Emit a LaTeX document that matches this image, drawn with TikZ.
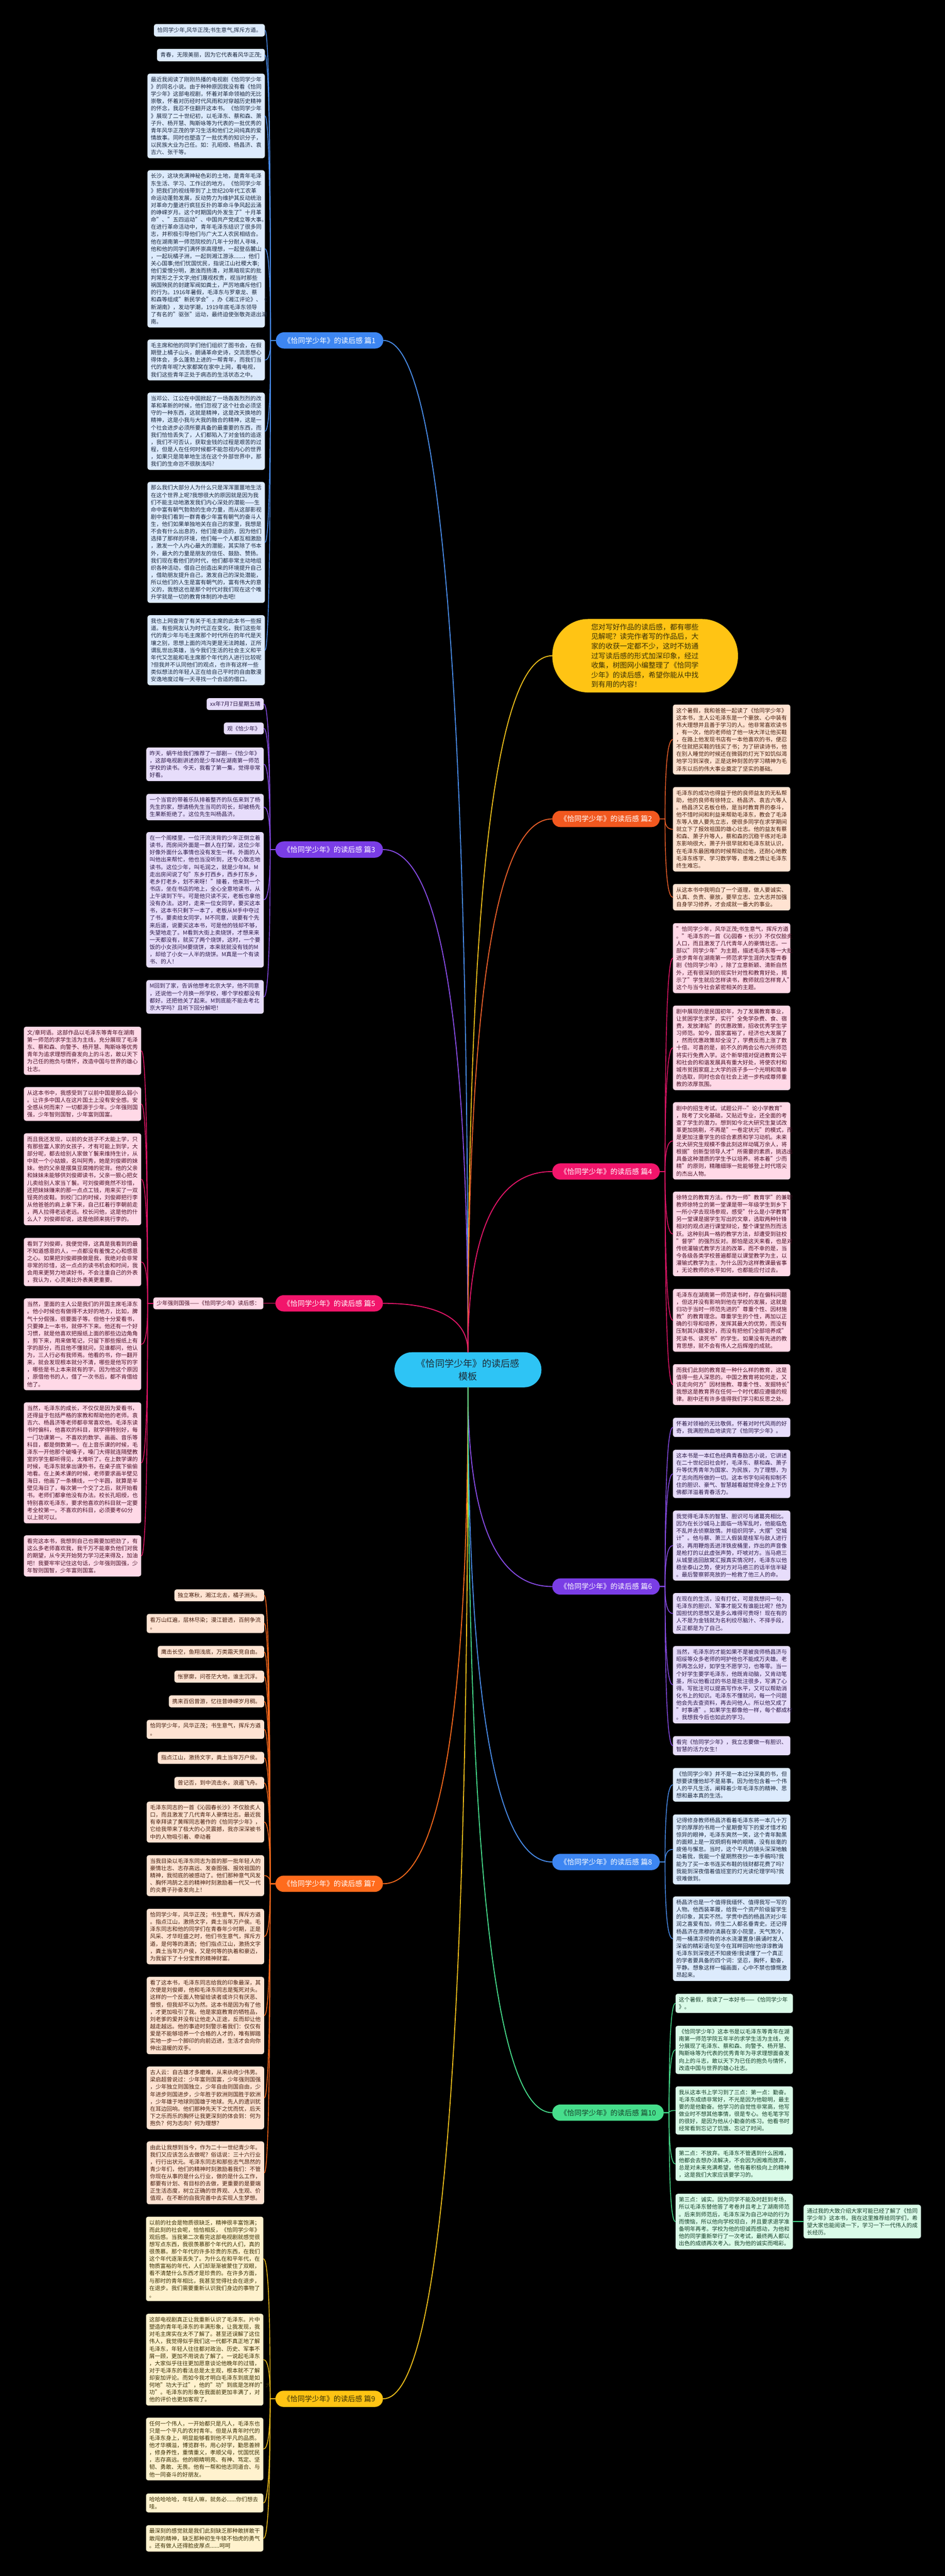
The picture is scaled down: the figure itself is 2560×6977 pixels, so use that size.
\documentclass[tikz,border=0pt]{standalone}
\usepackage{fontspec}
\setmainfont{Noto Sans CJK SC}
\usetikzlibrary{calc}

% colours of the branches
\definecolor{bluline}{HTML}{4A8FF0}
\definecolor{blulab}{HTML}{3D86F2}
\definecolor{bluleaf}{HTML}{DDEBFD}
\definecolor{blutext}{HTML}{1C2940}
\definecolor{purline}{HTML}{8A4DEB}
\definecolor{purlab}{HTML}{7A3DE6}
\definecolor{purleaf}{HTML}{E7DDFB}
\definecolor{purtext}{HTML}{2C1A4A}
\definecolor{pnkline}{HTML}{E8166A}
\definecolor{pnklab}{HTML}{F2156B}
\definecolor{pnkleaf}{HTML}{FFD9E7}
\definecolor{pnktext}{HTML}{4A1128}
\definecolor{redline}{HTML}{F0612A}
\definecolor{redlab}{HTML}{F2581F}
\definecolor{ornline}{HTML}{FF6B1C}
\definecolor{ornlab}{HTML}{FF6B1C}
\definecolor{ornleaf}{HTML}{FFE3D2}
\definecolor{orntext}{HTML}{472010}
\definecolor{yelline}{HTML}{F5C21B}
\definecolor{yellab}{HTML}{FFC414}
\definecolor{yelleaf}{HTML}{FFF2CE}
\definecolor{yeltext}{HTML}{3A2F05}
\definecolor{grnline}{HTML}{46DE8C}
\definecolor{grnlab}{HTML}{46DE8C}
\definecolor{grnleaf}{HTML}{DAFBE8}
\definecolor{grntext}{HTML}{17402A}
\definecolor{rootfill}{HTML}{2EC4F5}
\definecolor{roottext}{HTML}{1D2B38}

\newcommand\bodyfont{\fontsize{7.5pt}{9.85pt}\selectfont}
\newcommand\labfont{\fontsize{9.75pt}{12pt}\selectfont}
\newcommand\rootfont{\fontsize{12.7pt}{17.5pt}\selectfont}
\newcommand\introfont{\fontsize{9.7pt}{13pt}\selectfont}

\tikzset{
  elbow/.style={to path={-- ++(#1,0) coordinate (kink)
      .. controls ($(kink)!0.667!(kink |- \tikztotarget)$)
      and ($(\tikztotarget)!0.667!(kink |- \tikztotarget)$) .. (\tikztotarget)}},
  elbow/.default=0,
  box/.style={rounded corners=3pt, inner xsep=4.5pt, inner ysep=4.5pt, align=left, font=\bodyfont},
  para/.style={box, text width=150pt},
  blu/.style={fill=bluleaf, text=blutext},
  pur/.style={fill=purleaf, text=purtext},
  pnk/.style={fill=pnkleaf, text=pnktext},
  orn/.style={fill=ornleaf, text=orntext},
  yel/.style={fill=yelleaf, text=yeltext},
  grn/.style={fill=grnleaf, text=grntext},
  lab/.style={fill=#1, rounded corners=11pt, minimum height=22pt, inner xsep=10.5pt, inner ysep=2pt, font=\labfont},
  root/.style={fill=rootfill, text=roottext, rounded corners=23.5pt, minimum width=199pt,
    minimum height=47.5pt, align=center, font=\rootfont},
  intro/.style={fill=yellab, text=yeltext, rounded corners=49pt, minimum width=251.5pt,
    minimum height=99.5pt, text width=146pt, align=left, font=\introfont},
  trunk/.style={line width=1.25pt, draw=#1, line cap=round},
  twig/.style={line width=1pt, draw=#1, line cap=round},
}

\begin{document}
\begin{tikzpicture}[x=0.5pt, y=-0.5pt]
    % background (Canvas)
    \fill[black] (0,0) rectangle (2560,6977);
    \useasboundingbox (0,0) rectangle (2560,6977);

    % centre and intro
    \node[root] (root) at (1268,3710) {《恰同学少年》的读后感\\模板};
    \node[intro] (intro) at (1748,1776) {您对写好作品的读后感，都有哪些\\见解呢？读完作者写的作品后，大\\家的收获一定都不少，这时不妨通\\过写读后感的形式加深印象，经过\\收集，树图网小编整理了《恰同学\\少年》的读后感，希望你能从中找\\到有用的内容！};

    % branch labels (left)
    \node[lab=blulab, text=white, anchor=east] (p1) at (1039,922) {《恰同学少年》的读后感 篇1};
    \node[lab=purlab, text=white, anchor=east] (p3) at (1038,2301) {《恰同学少年》的读后感 篇3};
    \node[lab=pnklab, text=white, anchor=east] (p5) at (1038,3530) {《恰同学少年》的读后感 篇5};
    \node[lab=ornlab, text=white, anchor=east] (p7) at (1038,5102) {《恰同学少年》的读后感 篇7};
    \node[lab=yellab, text=yeltext, anchor=east] (p9) at (1038,6497) {《恰同学少年》的读后感 篇9};
    % branch labels (right)
    \node[lab=redlab, text=white, anchor=west] (p2) at (1496,2218) {《恰同学少年》的读后感 篇2};
    \node[lab=pnklab, text=white, anchor=west] (p4) at (1496,3173) {《恰同学少年》的读后感 篇4};
    \node[lab=purlab, text=white, anchor=west] (p6) at (1496,4297) {《恰同学少年》的读后感 篇6};
    \node[lab=blulab, text=white, anchor=west] (p8) at (1496,5043) {《恰同学少年》的读后感 篇8};
    \node[lab=grnlab, text=grntext, anchor=west] (p10) at (1496,5722) {《恰同学少年》的读后感 篇10};

    % 篇1
    \node[box, blu, anchor=east] (a1) at (718,82) {恰同学少年,风华正茂;书生意气,挥斥方遒。};
    \node[box, blu, anchor=east] (a2) at (718,149) {青春，无限美丽，因为它代表着风华正茂;};
    \node[para, blu, anchor=east] (a3) at (718,314) {最近我阅读了刚刚热播的电视剧《恰同学少年\\》的同名小说。由于种种原因我没有看《恰同\\学少年》这部电视剧，怀着对革命领袖的无比\\崇敬，怀着对历经时代风雨和对穿越历史精神\\的怀念，我忍不住翻开这本书。《恰同学少年\\》展现了二十世纪初，以毛泽东、蔡和森、萧\\子升、杨开慧、陶斯咏等为代表的一批优秀的\\青年风华正茂的学习生活和他们之间纯真的爱\\情故事。同时也塑造了一批优秀的知识分子，\\以民族大业为己任。如：孔昭绶、杨昌济、袁\\吉六、张干等。};
    \node[para, blu, anchor=east] (a4) at (718,674) {长沙，这块充满神秘色彩的土地，是青年毛泽\\东生活、学习、工作过的地方。《恰同学少年\\》把我们的视线带到了上世纪20年代工农革\\命运动蓬勃发展，反动势力为维护其反动统治\\对革命力量进行疯狂反扑的革命斗争风起云涌\\的峥嵘岁月。这个时期国内外发生了"十月革\\命"、"五四运动"、中国共产党成立等大事。\\在进行革命活动中，青年毛泽东结识了很多同\\志，并积极引导他们与广大工人农民相结合。\\他在湖南第一师范院校的几年十分耐人寻味，\\他和他的同学们满怀崇高理想，一起登岳麓山\\，一起玩橘子洲，一起到湘江游泳......，他们\\关心国事;他们忧国忧民，指说江山社稷大事;\\他们爱憎分明，激浊而扬清，对黑暗现实的批\\判常形之于文字;他们蔑视权贵，视当时那些\\祸国殃民的封建军阀如粪土，严厉地痛斥他们\\的行为。1916年暑假，毛泽东与罗章龙、蔡\\和森等组成"新民学会"，办《湘江评论》、《\\新湖南》，发动学潮，1919年底毛泽东领导\\了有名的"驱张"运动，最终迫使张敬尧退出湖\\南。};
    \node[para, blu, anchor=east] (a5) at (718,975) {毛主席和他的同学们他们组织了图书会，在假\\期登上橘子山头，朗诵革命史诗，交流思想心\\得体会，多么蓬勃上进的一帮青年，而我们当\\代的青年呢?大家都窝在家中上网，看电视，\\我们这些青年正处于病态的生活状态之中。};
    \node[para, blu, anchor=east] (a6) at (718,1168) {当邓公、江公在中国掀起了一场轰轰烈烈的改\\革和革新的时候，他们忽视了这个社会必须坚\\守的一种东西，这就是精神，这是改天换地的\\精神，这是小我与大我的融合的精神，这是一\\个社会进步必须所要具备的最重要的东西，而\\我们恰恰丢失了，人们都陷入了对金钱的追逐\\，我们不可否认，获取金钱的过程是艰苦的过\\程，但是人在任何时候都不能忽视内心的世界\\，如果只是简单地生活在这个外部世界中，那\\我们的生命岂不很肤浅吗?};
    \node[para, blu, anchor=east] (a7) at (718,1469) {那么我们大部分人为什么只是浑浑噩噩地生活\\在这个世界上呢?我想很大的原因就是因为我\\们不能主动地激发我们内心深处的潜能——生\\命中富有朝气勃勃的生命力量，而从这部影视\\剧中我们看到一群青春少年富有朝气的奋斗人\\生，他们如果单独地关在自己的家里，我想是\\不会有什么出息的，他们是幸运的，因为他们\\选择了那样的环境，他们每一个人都互相激励\\，激发一个人内心最大的潜能，其实除了书本\\外，最大的力量是朋友的信任、鼓励、赞扬。\\我们现在看他们的时代，他们都非常主动地组\\织各种活动，借自己创造出来的环境提升自己\\，借助朋友提升自己，激发自己的深处潜能，\\所以他们的人生是富有朝气的，富有伟大的意\\义的，我想这也是那个时代对我们现在这个唯\\升学就是一切的教育体制的冲击吧!};
    \node[para, blu, anchor=east] (a8) at (718,1761) {我也上网查询了有关于毛主席的此本书一些报\\道。有些网友认为时代正在变化，我们这些年\\代的青少年与毛主席那个时代所在的年代是天\\壤之别，思想上面的鸿沟更是无法跨越，正所\\谓乱世出英雄，当今我们生活的社会主义和平\\年代又怎能和毛主席那个年代的人进行比较呢\\?但我并不认同他们的观点，也许有这样一些\\类似想法的年轻人正在给自己平时的自由散漫\\安逸地度过每一天寻找一个合适的借口。};

    % 篇3
    \node[box, pur, anchor=east] (b1) at (715,1907) {xx年7月7日星期五晴};
    \node[box, pur, anchor=east] (b2) at (715,1973) {观《恰少年》};
    \node[para, pur, anchor=east] (b3) at (715,2070) {昨天，蜗牛给我们推荐了一部剧—《恰少年》\\，这部电视剧讲述的是少年M在湖南第一师范\\学校的读书。今天，我看了第一集，觉得非常\\好看。};
    \node[para, pur, anchor=east] (b4) at (715,2186) {一个当官的带着乐队排着整齐的队伍来到了杨\\先生的家，想请杨先生当司的司长，却被杨先\\生果断拒绝了。这位先生叫杨昌济。};
    \node[para, pur, anchor=east] (b5) at (715,2437) {在一个阁楼里，一位汗流浃背的少年正倒立着\\读书，而房间外面是一群人在打架，这位少年\\好像外面什么事情也没有发生一样。外面的人\\叫他出来帮忙，他也当没听到，还专心致志地\\读书。这位少年，叫毛润之，就是少年M。M\\走出房间说了句"东乡打西乡，西乡打东乡，\\老乡打老乡，划不来呀！"接着，他来到一个\\书店，坐在书店的地上，全心全意地读书，从\\上午读到下午。可是他只读不买，老板也拿他\\没有办法。这时，走来一位女同学，要买这本\\书，这本书只剩下一本了，老板从M手中夺过\\了书，要卖给女同学，M不同意，说要有个先\\来后道，说要买这本书，可是他的钱却不够，\\失望地走了。M看到大街上卖烧饼，才想来来\\一天都没有，就买了两个烧饼，这时，一个要\\饭的小女孩问M要烧饼，本来就就没有钱的M\\，却给了小女一人半的烧饼。M真是一个有读\\书、的人！};
    \node[para, pur, anchor=east] (b6) at (715,2700) {M回到了家，告诉他想考北京大学，他不同意\\，还说他一个月换一所学校，哪个学校都没有\\都好。还把他关了起来。M到底能不能去考北\\京大学吗？且听下回分解吧！};

    % 篇5
    \node[box, pnk, anchor=east] (c0) at (714,3530) {少年强则国强——《恰同学少年》读后感：};
    \node[para, pnk, anchor=east] (c1) at (383,2846) {文/章珂语。这部作品以毛泽东等青年在湖南\\第一师范的求学生活为主线，充分展现了毛泽\\东、蔡和森、向警予、杨开慧、陶斯咏等优秀\\青年为追求理想而奋发向上的斗志，敢以天下\\为己任的抱负与情怀，改造中国与世界的雄心\\壮志。};
    \node[para, pnk, anchor=east] (c2) at (383,2990) {从这本书中，我感受到了以前中国是那么弱小\\。让许多中国人在这片国土上没有安全感。安\\全感从何而来？一切都源于少年。少年强则国\\强，少年智则国智，少年富则国富。};
    \node[para, pnk, anchor=east] (c3) at (383,3194) {而且我还发现，以前的女孩子不太能上学，只\\有那些富人家的女孩子，才有可能上到学，大\\部分呢，都去给别人家做丫鬟来维持生计，从\\中就一个小姑娘，名叫阿秀，她是刘俊卿的妹\\妹。他的父亲是摆臭豆腐摊的驼背。他的父亲\\和妹妹未能够供刘俊卿读书，父亲一狠心把女\\儿卖给别人家当丫鬟。可刘俊卿竟然不珍惜，\\还把妹妹赚来的那一点点工钱，用来买了一双\\锃亮的皮鞋。到校门口的时候，刘俊卿把行李\\从他爸爸的肩上拿下来，自己扛着行李朝前走\\，两人拉得老远老远。校长问他，这是他的什\\么人？刘俊卿却说，这是他顾来挑行李的。};
    \node[para, pnk, anchor=east] (c4) at (383,3418) {看到了刘俊卿，我便觉得，这真是我看到的最\\不知道感恩的人，一点都没有羞愧之心和感恩\\之心。如果把刘俊卿换做是我，我绝对会非常\\非常的珍惜，这一点点的读书机会和时间，我\\会用来更努力地读好书，不会注重自己的外表\\，我认为，心灵美比外表美更重要。};
    \node[para, pnk, anchor=east] (c5) at (383,3641) {当然，里面的主人公是我们的开国主席毛泽东\\。他小时候也有做得不太好的地方，比如，脾\\气十分倔强，很要面子等。但他十分爱看书，\\只要捧上一本书，就停不下来。他还有一个好\\习惯，就是他喜欢把报纸上面的那些边边角角\\，剪下来，用来做笔记，只留下那些报纸上有\\字的部分，而且他不懂就问，见谁都问，他认\\为，三人行必有我师焉。他看的书，你一翻开\\来，就会发现根本就分不清，哪些是他写的字\\，哪些是书上本来就有的字。因为他这个原因\\，原借他书的人，借了一次书后，都不肯借给\\他了。};
    \node[para, pnk, anchor=east] (c6) at (383,3962) {当然，毛泽东的成长，不仅仅是因为爱看书，\\还得益于包括严格的家教和帮助他的老师。袁\\吉六、杨昌济等老师都非常喜欢他。毛泽东读\\书时偏科，他喜欢的科目，就学得特别好，每\\一门功课第一。不喜欢的数学、画画、音乐等\\科目，都是倒数第一。在上音乐课的时候，毛\\泽东一开他那个破嗓子，嗓门大得就连隔壁教\\室的学生都听得见，太难听了。在上数学课的\\时候，毛泽东就拿出课外书，在桌子底下偷偷\\地看。在上美术课的时候，老师要求画半壁见\\海日，他画了一条横线，一个半圆，就算是半\\壁见海日了，每次第一个交了之后，就开始看\\书。老师们都拿他没有办法。校长孔昭绶，也\\特别喜欢毛泽东，要求他喜欢的科目就一定要\\考全校第一。不喜欢的科目，必须要考60分\\以上就可以。};
    \node[para, pnk, anchor=east] (c7) at (383,4214) {看完这本书，我想到自己也需要加把劲了，有\\这么多老师喜欢我，我千万不能辜负他们对我\\的期望，从今天开始努力学习还来得及，加油\\吧！我要牢牢记住这句话，少年强则国强，少\\年智则国智，少年富则国富。};

    % 篇7
    \node[box, orn, anchor=east] (d1) at (716,4321) {独立寒秋，湘江北去，橘子洲头。};
    \node[para, orn, anchor=east] (d2) at (716,4397) {看万山红遍，层林尽染；漫江碧透，百舸争流\\。};
    \node[box, orn, anchor=east] (d3) at (716,4474) {鹰击长空，鱼翔浅底，万类霜天竞自由。};
    \node[box, orn, anchor=east] (d4) at (716,4541) {怅寥廓，问苍茫大地，谁主沉浮。};
    \node[box, orn, anchor=east] (d5) at (716,4608) {携来百侣曾游，忆往昔峥嵘岁月稠。};
    \node[para, orn, anchor=east] (d6) at (716,4684) {恰同学少年，风华正茂；书生意气，挥斥方遒\\。};
    \node[box, orn, anchor=east] (d7) at (716,4761) {指点江山，激扬文字，粪土当年万户侯。};
    \node[box, orn, anchor=east] (d8) at (716,4829) {曾记否，到中流击水，浪遏飞舟。};
    \node[para, orn, anchor=east] (d9) at (716,4935) {毛泽东同志的一首《沁园春长沙》不仅脍炙人\\口，而且激发了几代青年人豪情壮志。最近我\\有幸拜读了黄晖同志著作的《恰同学少年》，\\它给我带来了极大的心灵震撼，我亦深深被书\\中的人物吸引着、牵动着};
    \node[para, orn, anchor=east] (d10) at (716,5080) {当我目染以毛泽东同志为首的那一批年轻人的\\豪情壮志、志存高远、发奋图强、报效祖国的\\精神，我彻底的被感动了。他们那种意气风发\\、胸怀鸿鹄之志的精神时刻激励着一代又一代\\的炎黄子孙奋发向上！};
    \node[para, orn, anchor=east] (d11) at (716,5245) {恰同学少年，风华正茂；书生意气，挥斥方遒\\。指点江山，激扬文字，粪土当年万户侯。毛\\泽东同志和他的同学们在青春年少时期，正是\\风采、才华旺盛之时，他们书生意气，挥斥方\\遒，是何等的潇洒；他们指点江山，激扬文字\\，粪土当年万户侯，又是何等的执着和豪迈，\\为我留下了十分宝贵的精神财富。};
    \node[para, orn, anchor=east] (d12) at (716,5459) {看了这本书，毛泽东同志给我的印象最深，其\\次便是刘俊卿，他和毛泽东同志是冤死对头。\\这样的一个反面人物留给读者或许只有厌恶、\\憎恨，但我却不以为然。这本书是因为有了他\\，才更加吸引了我。他是家庭教育的牺牲品，\\刘老爹的爱并没有让他走入正途，反而却让他\\越走越远。他的事迹时刻警示着我们：仅仅有\\爱是不能够培养一个合格的人才的，唯有脚踏\\实地一步一个脚印的向前迈进，生活才会向你\\伸出温暖的双手。};
    \node[para, orn, anchor=east] (d13) at (716,5682) {古人云：自古雄才多磨难，从来纨绔少伟男。\\梁启超曾说过：少年富则国富，少年强则国强\\，少年独立则国独立，少年自由则国自由，少\\年进步则国进步，少年胜于欧洲则国胜于欧洲\\，少年雄于地球则国雄于地球。先人的遗训犹\\在耳边回响。他们那种先天下之忧而忧，后天\\下之乐而乐的胸怀让我更深刻的体会到：何为\\抱负？何为志向？何为理想？};
    \node[para, orn, anchor=east] (d14) at (716,5885) {由此让我想到当今，作为二十一世纪青少年。\\我们又应该怎么去做呢？俗话说：三十六行业\\，行行出状元。毛泽东同志和那些志气昂然的\\青少年们，他们的精神时刻激励着我们：不管\\你现在从事的是什么行业，做的是什么工作，\\都要有计划、有目标的去做，更重要的是要端\\正生活态度，树立正确的世界观、人生观、价\\值观，在不断的自我完善中去实现人生梦想。};

    % 篇9
    \node[para, yel, anchor=east] (e1) at (714,6118) {以前的社会是物质很缺乏，精神很丰富饱满；\\而此刻的社会呢，恰恰相反，《恰同学少年》\\观后感。当我第二次看完这部电视剧就感觉很\\想写点东西，我很羡慕那个年代的人们，真的\\很羡慕。那个年代的许多珍贵的东西，在我们\\这个年代逐渐丢失了。为什么在和平年代，在\\物质富裕的年代，人们却渐渐被蒙住了双眼，\\看不清楚什么东西才是珍贵的。在许多方面，\\与那时的青年相比，我甚至觉得社会在退步，\\在退步。我们需要重新认识我们身边的事物了\\。};
    \node[para, yel, anchor=east] (e2) at (714,6391) {这部电视剧真正让我重新认识了毛泽东。片中\\塑造的青年毛泽东的丰满形象，让我发现，我\\对毛主席实在太不了解了。甚至还误解了这位\\伟人，我觉得似乎我们这一代都不真正地了解\\毛泽东，年轻人往往都对政治、历史、军事不\\屑一顾，更加不用说去了解了。一说起毛泽东\\，大家似乎往往更加愿意谈论他晚年的过错，\\对于毛泽东的看法总是太主观，根本就不了解\\却妄加评论。而如今我才明白毛泽东到底是如\\何地"功大于过"，他的"功"到底是怎样的"大\\功"。毛泽东的形象在我面前更加丰满了，对\\他的评价也更加客观了。};
    \node[para, yel, anchor=east] (e3) at (714,6633) {任何一个伟人，一开始都只是凡人，毛泽东也\\只是一个平凡的农村青年。但是从青年时代的\\毛泽东身上，明显能够看到他不平凡的品质。\\他才华横溢，博览群书，用心好学，勤思善辨\\，修身养性，重情重义，孝顺父母，忧国忧民\\，志存高远。他的眼睛明亮、有神、笃定、坚\\韧、勇敢、无畏。他有一帮和他志同道合、与\\他一同奋斗的好朋友。};
    \node[para, yel, anchor=east] (e4) at (714,6779) {哈哈哈哈哈，年轻人嘛，就务必......你们想去\\哇。};
    \node[para, yel, anchor=east] (e5) at (714,6875) {最深刻的感觉就是我们此刻缺乏那种敢拼敢干\\敢闯的精神，缺乏那种初生牛犊不怕虎的勇气\\。还有做人还得脸皮厚点......呵呵};

    % 篇2
    \node[para, orn, anchor=west] (f1) at (1823,2003) {这个暑假，我和爸爸一起读了《恰同学少年》\\这本书，主人公毛泽东是一个豪放、心中装有\\伟大理想并且善于学习的人。他非常喜欢读书\\，有一次，他的老师给了他一块大洋让他买鞋\\，在路上他发现书店有一本他喜欢的书，便忍\\不住就把买鞋的钱买了书；为了研读诗书，他\\在别人睡觉的时候还在微弱的灯光下如饥似渴\\地学习到深夜，正是这种刻苦的学习精神为毛\\泽东以后的伟大事业奠定了坚实的基础。};
    \node[para, orn, anchor=west] (f2) at (1823,2246) {毛泽东的成功也得益于他的良师益友的无私帮\\助，他的良师有徐特立、杨昌济、袁吉六等人\\。杨昌济又名板仓杨，是当时教育界的泰斗，\\他不惜时间和利益来帮助毛泽东，教会了毛泽\\东等人做人要先立志，使很多同学在求学期间\\就立下了报效祖国的雄心壮志。他的益友有蔡\\和森、萧子升等人，蔡和森的沉稳干练对毛泽\\东影响很大，萧子升很早就和毛泽东就认识，\\在毛泽东最困难的时候帮助过他，还耐心地教\\毛泽东练字、学习数学等，患难之情让毛泽东\\终生难忘。};
    \node[para, orn, anchor=west] (f3) at (1823,2430) {从这本书中我明白了一个道理，做人要诚实、\\认真、负责、豪放，要早立志、立大志并加强\\自身学习修养，才会成就一番大的事业。};

    % 篇4
    \node[para, pnk, anchor=west] (g1) at (1823,2595) {"恰同学少年，风华正茂;书生意气，挥斥方遒\\。"毛泽东的一首《沁园春·长沙》不仅仅脍炙\\人口，而且激发了几代青年人的豪情壮志。一\\部以"同学少年"为主题，描述毛泽东等一大批\\进步青年在湖南第一师范求学生涯的大型青春\\剧《恰同学少年》，除了立意新颖、清新自然\\外，还有很深刻的现实针对性和教育好处，揭\\示了"学生就应怎样读书，教师就应怎样育人"\\这个与当今社会紧密相关的主题。};
    \node[para, pnk, anchor=west] (g2) at (1823,2838) {剧中展现的是民国初年，为了发展教育事业，\\让贫困学生求学，实行"全免学杂费、食、宿\\费，发放津贴"的优惠政策，招收优秀学生学\\习师范。如今，国家富裕了，经济也大发展了\\，然而优惠政策却全没了，学费反而上涨了数\\十倍。可喜的是，前不久的两会公布六所师范\\将实行免费入学。这个新举措对促进教育公平\\和社会的和谐发展具有重大好处，将使农村和\\城市贫困家庭上大学的孩子多一个光明和简单\\的选取，同时也会在社会上进一步构成尊师重\\教的浓厚氛围。};
    \node[para, pnk, anchor=west] (g3) at (1823,3090) {剧中的招生考试。试题公开-{}-"论小学教育"\\，既考了文化基础，又贴近专业，还全面的考\\查了学生的潜力。想到如今北大研究生复试改\\革更加挑剔，不再是"一卷定状元"的模式，而\\是更加注重学生的综合素质和学习动机。未来\\北大研究生规模不像此刻这样动辄万余人，将\\根据"创新型领导人才"所需要的素质，挑选出\\具备这种潜质的学生予以培养。将本着"少而\\精"的原则，精雕细琢一批能够登上时代塔尖\\的杰出人物。};
    \node[para, pnk, anchor=west] (g4) at (1823,3342) {徐特立的教育方法。作为一师"教育学"的兼职\\教师徐特立的第一堂课是带一年级学生到乡下\\一所小学去现场参观，感受"什么是小学教育"\\另一堂课是据学生写出的文章，选取两种针锋\\相对的观点进行课堂辩论，整个课堂热烈而活\\跃。这种别具一格的教学方法，却遭受到驻校\\"督学"的强烈反对。那怕是这天来看，也是对\\传统灌输式教学方法的改革，而不幸的是，当\\今各级各类学校普遍都是以课堂教学为主，以\\灌输式教学为主，为什么因为这样教课最省事\\，无论教师的水平如何，也都能应付过去。};
    \node[para, pnk, anchor=west] (g5) at (1823,3576) {毛泽东在湖南第一师范读书时，存在偏科问题\\，但这并没有影响到他在学校的发展，这就是\\归功于当时一师范先进的"尊重个性、因材施\\教"的教育理念。尊重学生的个性，再加以正\\确的引导和培养，发挥其最大的优势，而没有\\压制其兴趣爱好，而没有把他们全部培养成"\\死读书、读死书"的学生。如果没有先进的教\\育思想，就不会有伟人之后辉煌的成就。};
    \node[para, pnk, anchor=west] (g6) at (1823,3750) {而我们此刻的教育是一种什么样的教育，这是\\值得一些人深思的。中国之教育将如何走，又\\该走向何方"因材施教、尊重个性、发掘特长"\\我想这是教育界在任何一个时代都应遵循的规\\律。剧中还有许多值得我们学习和反思之处。};

    % 篇6
    \node[para, pur, anchor=west] (h1) at (1823,3866) {怀着对领袖的无比敬佩，怀着对时代风雨的好\\奇，我满腔热血地读完了《恰同学少年》。};
    \node[para, pur, anchor=west] (h2) at (1823,3992) {这本书是一本红色经典青春励志小说，它讲述\\在二十世纪旧社会时，毛泽东、蔡和森、萧子\\升等优秀青年为国家、为民族，为了理想，为\\了志向而所做的一切。这本书字句间有抑制不\\住的胆识、豪气、智慧越看越觉得全身上下仿\\佛都洋溢着青春活力。};
    \node[para, pur, anchor=west] (h3) at (1823,4186) {我觉得毛泽东的智慧、胆识可与诸葛亮相比。\\因为在长沙城马上面临一场军乱时，他能临危\\不乱并去侦察敌情。并组织同学，大摆"空城\\计"。他与蔡、萧三人假装是桂军与敌人进行\\谈，再用鞭炮丢进洋铁皮桶里，炸出的声音像\\是枪打的以此虚张声势，吓唬对方。当马疤三\\从城里逃回敌窝汇报真实情况时，毛泽东以他\\稳坐泰山之势，使对方对马疤三的话半信半疑\\。最后警察郭亮放的一枪救了他三人的命。};
    \node[para, pur, anchor=west] (h4) at (1823,4370) {在现在的生活，没有打仗，可是我想问一句，\\毛泽东的胆识、军事才能又有谁能比呢？他为\\国担忧的思想又是多么难得可贵呀！现在有的\\人不是为金钱就为名利绞尽脑汁、不择手段，\\反正都是为了自己。};
    \node[para, pur, anchor=west] (h5) at (1823,4563) {当然，毛泽东的才能如果不是被良师杨昌济与\\昭绥等众多老师的呵护他也不能成万夫雄。老\\师再怎么好，如学生不愿学习，也等零。当一\\个好学生要学毛泽东，他既肯动脑，又肯动笔\\墨，所以他看过的书总是批注很多，写满了心\\得。写批注可以提高写作水平，又可以帮助消\\化书上的知识。毛泽东不懂就问，每一个问题\\他会先去查资料，再去问他人。所以他又成了\\"时事通"。如果学生都像他一样，每个都成材\\。我想我今后也如此的学习。};
    \node[para, pur, anchor=west] (h6) at (1823,4728) {看完《恰同学少年》，我立志要做一有胆识、\\智慧的活力女生！};

    % 篇8
    \node[para, blu, anchor=west] (i1) at (1823,4834) {《恰同学少年》并不是一本过分深奥的书，但\\想要读懂他却不是易事。因为他包含着一个伟\\人的平凡生活，阐释着少年毛泽东的精神、思\\想和最本真的生活。};
    \node[para, blu, anchor=west] (i2) at (1823,5009) {记得修身教师杨昌济看着毛泽东将一本几十万\\字的厚厚的书用一个星期誊写下的爱才惜才和\\惊异的眼神，毛泽东爽然一笑，这个青年黝黑\\的面颊上是一双炯炯有神的眼睛，没有丝毫的\\疲倦与懈怠。当时，这个平凡的镜头深深地触\\动着我，我能一个星期熬夜抄一本手稿吗?我\\能为了买一本书连买布鞋的钱财都花费了吗?\\我能到深夜借着值班室的灯光读伦理学吗?我\\很难做到。};
    \node[para, blu, anchor=west] (i3) at (1823,5251) {杨昌济也是一个值得我缅怀、值得我写一写的\\人物。他西装革履，给我一个资产阶级留学生\\的印象，其实不然。学贯中西的杨昌济对少年\\润之喜爱有加，师生二人都名垂青史。还记得\\杨昌济在肃穆的清晨在家小院里，天气煞冷，\\用一桶清凉彻骨的冰水浇灌置身!晨诵时发人\\深省的精彩语句至今在耳畔回响!他谆谆教诲\\毛泽东到深夜还不知疲倦!我读懂了一个真正\\的学者要具备的四个词：坚忍，胸怀，勤奋，\\平静。想象这样一幅画面，心中不禁也慷慨激\\昂起来。};

    % 篇10
    \node[para, grn, anchor=west] (j1) at (1830,5426) {这个暑假，我读了一本好书——《恰同学少年\\》。};
    \node[para, grn, anchor=west] (j2) at (1830,5552) {《恰同学少年》这本书是以毛泽东等青年在湖\\南第一师范学院五年半的求学生活为主线，充\\分展现了毛泽东、蔡和森、向警予、杨开慧、\\陶斯咏等为代表的优秀青年为寻求理想面奋发\\向上的斗志，敢以天下为已任的抱负与情怀，\\改造中国与世界的雄心壮志。};
    \node[para, grn, anchor=west] (j3) at (1830,5716) {我从这本书上学习到了三点：第一点：勤奋。\\毛泽东成绩非常好，不光是因为他聪明，最主\\要的是他勤奋。他学习的自觉性非常高，他写\\做业时不想其他事情，很是专心。他毛笔字写\\的很好，是因为他从小勤奋的练习。他看书时\\经常看到忘记了饥饿、忘记了时间。};
    \node[para, grn, anchor=west] (j4) at (1830,5861) {第二点：不放弃。毛泽东不管遇到什么困难，\\他都会去想办法解决，不会因为困难而放弃，\\总是对未来充满希望，他有着积极向上的精神\\，这是我们大家应该要学习的。};
    \node[para, grn, anchor=west] (j5) at (1830,6017) {第三点：诚实。因为同学不能及时赶到考场，\\所以毛泽东替他答了考卷并且考上了湖南师范\\。后来到师范后，毛泽东深为自己冲动的行为\\而懊恼，所以他向学校坦白，并且要求退学准\\备明年再考。学校为他的坦诚而感动，为他和\\他的同学重新举行了一次考试，最终两人都以\\出色的成绩再次考入。我为他的诚实而喝彩。};
    \node[para, grn, anchor=west] (j6) at (2177,6017) {通过我的大致介绍大家可能已经了解了《恰同\\学少年》这本书，我在这里推荐给同学们，希\\望大家也能阅读一下，学习一下一代伟人的成\\长经历。};

    % trunk curves from the centre
    \draw[trunk=bluline] (root.north) to[elbow] (p1.east);
    \draw[trunk=purline] (root.north) to[elbow] (p3.east);
    \draw[trunk=pnkline] (root.north) to[elbow] (p5.east);
    \draw[trunk=yelline] (root.north) to[elbow] (intro.west);
    \draw[trunk=redline] (root.north) to[elbow] (p2.west);
    \draw[trunk=pnkline] (root.north) to[elbow] (p4.west);
    \draw[trunk=purline] (root.south) to[elbow] (p6.west);
    \draw[trunk=ornline] (root.south) to[elbow] (p7.east);
    \draw[trunk=bluline] (root.south) to[elbow] (p8.west);
    \draw[trunk=yelline] (root.south) to[elbow] (p9.east);
    \draw[trunk=grnline] (root.south) to[elbow] (p10.west);

    % 篇1 links
    \draw[twig=bluline] (p1.west) to[elbow=-14] (a1.east);
    \draw[twig=bluline] (p1.west) to[elbow=-14] (a2.east);
    \draw[twig=bluline] (p1.west) to[elbow=-14] (a3.east);
    \draw[twig=bluline] (p1.west) to[elbow=-14] (a4.east);
    \draw[twig=bluline] (p1.west) to[elbow=-14] (a5.east);
    \draw[twig=bluline] (p1.west) to[elbow=-14] (a6.east);
    \draw[twig=bluline] (p1.west) to[elbow=-14] (a7.east);
    \draw[twig=bluline] (p1.west) to[elbow=-14] (a8.east);

    % 篇3 links
    \draw[twig=purline] (p3.west) to[elbow=-14] (b1.east);
    \draw[twig=purline] (p3.west) to[elbow=-14] (b2.east);
    \draw[twig=purline] (p3.west) to[elbow=-14] (b3.east);
    \draw[twig=purline] (p3.west) to[elbow=-14] (b4.east);
    \draw[twig=purline] (p3.west) to[elbow=-14] (b5.east);
    \draw[twig=purline] (p3.west) to[elbow=-14] (b6.east);

    % 篇5 links
    \draw[twig=pnkline] (p5.west) -- (c0.east);
    \draw[twig=pnkline] (c0.west) to[elbow=-15] (c1.east);
    \draw[twig=pnkline] (c0.west) to[elbow=-15] (c2.east);
    \draw[twig=pnkline] (c0.west) to[elbow=-15] (c3.east);
    \draw[twig=pnkline] (c0.west) to[elbow=-15] (c4.east);
    \draw[twig=pnkline] (c0.west) to[elbow=-15] (c5.east);
    \draw[twig=pnkline] (c0.west) to[elbow=-15] (c6.east);
    \draw[twig=pnkline] (c0.west) to[elbow=-15] (c7.east);

    % 篇7 links
    \draw[twig=ornline] (p7.west) to[elbow=-14] (d1.east);
    \draw[twig=ornline] (p7.west) to[elbow=-14] (d2.east);
    \draw[twig=ornline] (p7.west) to[elbow=-14] (d3.east);
    \draw[twig=ornline] (p7.west) to[elbow=-14] (d4.east);
    \draw[twig=ornline] (p7.west) to[elbow=-14] (d5.east);
    \draw[twig=ornline] (p7.west) to[elbow=-14] (d6.east);
    \draw[twig=ornline] (p7.west) to[elbow=-14] (d7.east);
    \draw[twig=ornline] (p7.west) to[elbow=-14] (d8.east);
    \draw[twig=ornline] (p7.west) to[elbow=-14] (d9.east);
    \draw[twig=ornline] (p7.west) to[elbow=-14] (d10.east);
    \draw[twig=ornline] (p7.west) to[elbow=-14] (d11.east);
    \draw[twig=ornline] (p7.west) to[elbow=-14] (d12.east);
    \draw[twig=ornline] (p7.west) to[elbow=-14] (d13.east);
    \draw[twig=ornline] (p7.west) to[elbow=-14] (d14.east);

    % 篇9 links
    \draw[twig=yelline] (p9.west) to[elbow=-14] (e1.east);
    \draw[twig=yelline] (p9.west) to[elbow=-14] (e2.east);
    \draw[twig=yelline] (p9.west) to[elbow=-14] (e3.east);
    \draw[twig=yelline] (p9.west) to[elbow=-14] (e4.east);
    \draw[twig=yelline] (p9.west) to[elbow=-14] (e5.east);

    % 篇2 links
    \draw[twig=redline] (p2.east) to[elbow=14] (f1.west);
    \draw[twig=redline] (p2.east) to[elbow=14] (f2.west);
    \draw[twig=redline] (p2.east) to[elbow=14] (f3.west);

    % 篇4 links
    \draw[twig=pnkline] (p4.east) to[elbow=14] (g1.west);
    \draw[twig=pnkline] (p4.east) to[elbow=14] (g2.west);
    \draw[twig=pnkline] (p4.east) to[elbow=14] (g3.west);
    \draw[twig=pnkline] (p4.east) to[elbow=14] (g4.west);
    \draw[twig=pnkline] (p4.east) to[elbow=14] (g5.west);
    \draw[twig=pnkline] (p4.east) to[elbow=14] (g6.west);

    % 篇6 links
    \draw[twig=purline] (p6.east) to[elbow=14] (h1.west);
    \draw[twig=purline] (p6.east) to[elbow=14] (h2.west);
    \draw[twig=purline] (p6.east) to[elbow=14] (h3.west);
    \draw[twig=purline] (p6.east) to[elbow=14] (h4.west);
    \draw[twig=purline] (p6.east) to[elbow=14] (h5.west);
    \draw[twig=purline] (p6.east) to[elbow=14] (h6.west);

    % 篇8 links
    \draw[twig=bluline] (p8.east) to[elbow=14] (i1.west);
    \draw[twig=bluline] (p8.east) to[elbow=14] (i2.west);
    \draw[twig=bluline] (p8.east) to[elbow=14] (i3.west);

    % 篇10 links
    \draw[twig=grnline] (p10.east) to[elbow=14] (j1.west);
    \draw[twig=grnline] (p10.east) to[elbow=14] (j2.west);
    \draw[twig=grnline] (p10.east) to[elbow=14] (j3.west);
    \draw[twig=grnline] (p10.east) to[elbow=14] (j4.west);
    \draw[twig=grnline] (p10.east) to[elbow=14] (j5.west);
    \draw[twig=grnline] (j5.east) -- (j6.west);

\end{tikzpicture}
\end{document}
